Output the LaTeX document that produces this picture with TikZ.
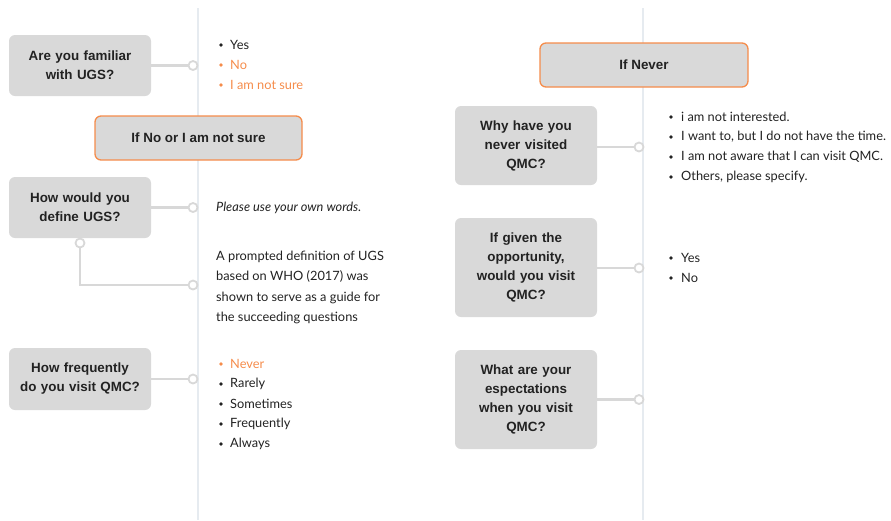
\documentclass[tikz,border=0pt]{standalone}
\usepackage{fontspec}
\setmainfont{Lato}
\newfontfamily\qfont{Liberation Sans}
\definecolor{boxgray}{RGB}{217,217,217}
\definecolor{conngray}{RGB}{216,216,216}
\definecolor{vlinec}{RGB}{230,235,240}
\definecolor{orng}{RGB}{245,140,75}
\definecolor{txt}{RGB}{34,34,34}
\tikzset{
  qbox/.style={fill=boxgray, rounded corners=6pt, minimum width=142pt, text width=136pt, align=center,
    font=\qfont\bfseries\fontsize{13.4}{19}\selectfont, text=txt, inner sep=0pt},
  hbox/.style={fill=boxgray, draw=orng, line width=1.3pt, rounded corners=6pt, minimum height=44pt,
    font=\qfont\bfseries\fontsize{13.4}{19}\selectfont, text=txt, inner sep=0pt},
  dot/.style={circle, draw=conngray, fill=white, line width=1.8pt, minimum size=9pt, inner sep=0pt},
  conn/.style={draw=conngray, line width=2.4pt},
  vline/.style={draw=vlinec, line width=2pt},
  ans/.style={anchor=west, inner sep=0pt, font=\fontsize{12.8}{20.2}\selectfont, text=txt},
  bul/.style={circle, fill=txt, minimum size=3.6pt, inner sep=0pt},
  obul/.style={circle, fill=orng, minimum size=3.6pt, inner sep=0pt}
}
\begin{document}
\begin{tikzpicture}[x=1pt,y=-1pt]
\useasboundingbox (0,0) rectangle (891,520);
% vertical lines
\coordinate (vlt) at (198,8); \coordinate (vlb) at (198,520);
\coordinate (vrt) at (643,8); \coordinate (vrb) at (643,520);
\draw[vline] (vlt) -- (vlb);
\draw[vline] (vrt) -- (vrb);

% left column boxes
\node[qbox, minimum height=61pt] (q1) at (80,65.5) {Are you familiar\\with UGS?};
\node[hbox, minimum width=207pt] (h1) at (198.5,138) {If No or I am not sure};
\node[qbox, minimum height=61pt] (q2) at (80,207.5) {How would you\\define UGS?};
\node[qbox, minimum height=62pt] (q3) at (80,379) {How frequently\\do you visit QMC?};

% right column boxes
\node[hbox, minimum width=208pt] (h2) at (644,65) {If Never};
\node[qbox, minimum height=79pt] (q4) at (526,145.5) {Why have you\\never visited\\QMC?};
\node[qbox, minimum height=99pt] (q5) at (526,267.5) {If given the\\opportunity,\\would you visit\\QMC?};
\node[qbox, minimum height=99pt] (q6) at (526,399.5) {What are your\\espectations\\when you visit\\QMC?};

% connectors and dots
\node[dot] (d1) at (193,65.5) {};
\node[dot] (d2) at (193,207.5) {};
\node[dot] (d2b) at (80,243) {};
\node[dot] (d2c) at (193,285) {};
\node[dot] (d3) at (193,379) {};
\node[dot] (d4) at (639,147) {};
\node[dot] (d5) at (639,268) {};
\node[dot] (d6) at (639,399.5) {};
\draw[conn] (q1.east |- d1) -- (d1.west);
\draw[conn] (q2.east |- d2) -- (d2.west);
\draw[conn] (d2b.south) |- (d2c.west);
\draw[conn] (q3.east |- d3) -- (d3.west);
\draw[conn] (q4.east |- d4) -- (d4.west);
\draw[conn] (q5.east |- d5) -- (d5.west);
\draw[conn] (q6.east |- d6) -- (d6.west);

% answers q1
\node[bul] (b11) at (221,45) {}; \node[ans] (a11) at (230,45) {Yes};
\node[obul] (b12) at (221,65) {}; \node[ans, text=orng] (a12) at (230,65) {No};
\node[obul] (b13) at (221,85) {}; \node[ans, text=orng] (a13) at (230,85) {I am not sure};

% answers q2
\node[ans] (a21) at (216,207.5) {\itshape Please use your own words.};
\node[ans, align=left, anchor=north west] (a22) at (216,251) {A prompted definition of UGS\\based on WHO (2017) was\\shown to serve as a guide for\\the succeeding questions};

% answers q3
\node[obul] (b31) at (221,364) {}; \node[ans, text=orng] (a31) at (230,364) {Never};
\node[bul] (b32) at (221,384) {}; \node[ans] (a32) at (230,384) {Rarely};
\node[bul] (b33) at (221,404) {}; \node[ans] (a33) at (230,404) {Sometimes};
\node[bul] (b34) at (221,424) {}; \node[ans] (a34) at (230,424) {Frequently};
\node[bul] (b35) at (221,444) {}; \node[ans] (a35) at (230,444) {Always};

% answers q4
\node[bul] (b41) at (671,117) {}; \node[ans] (a41) at (681,117) {i am not interested.};
\node[bul] (b42) at (671,137) {}; \node[ans] (a42) at (681,137) {I want to, but I do not have the time.};
\node[bul] (b43) at (671,157) {}; \node[ans] (a43) at (681,157) {I am not aware that I can visit QMC.};
\node[bul] (b44) at (671,177) {}; \node[ans] (a44) at (681,177) {Others, please specify.};

% answers q5
\node[bul] (b51) at (671,258) {}; \node[ans] (a51) at (681,258) {Yes};
\node[bul] (b52) at (671,278) {}; \node[ans] (a52) at (681,278) {No};
\end{tikzpicture}
\end{document}
